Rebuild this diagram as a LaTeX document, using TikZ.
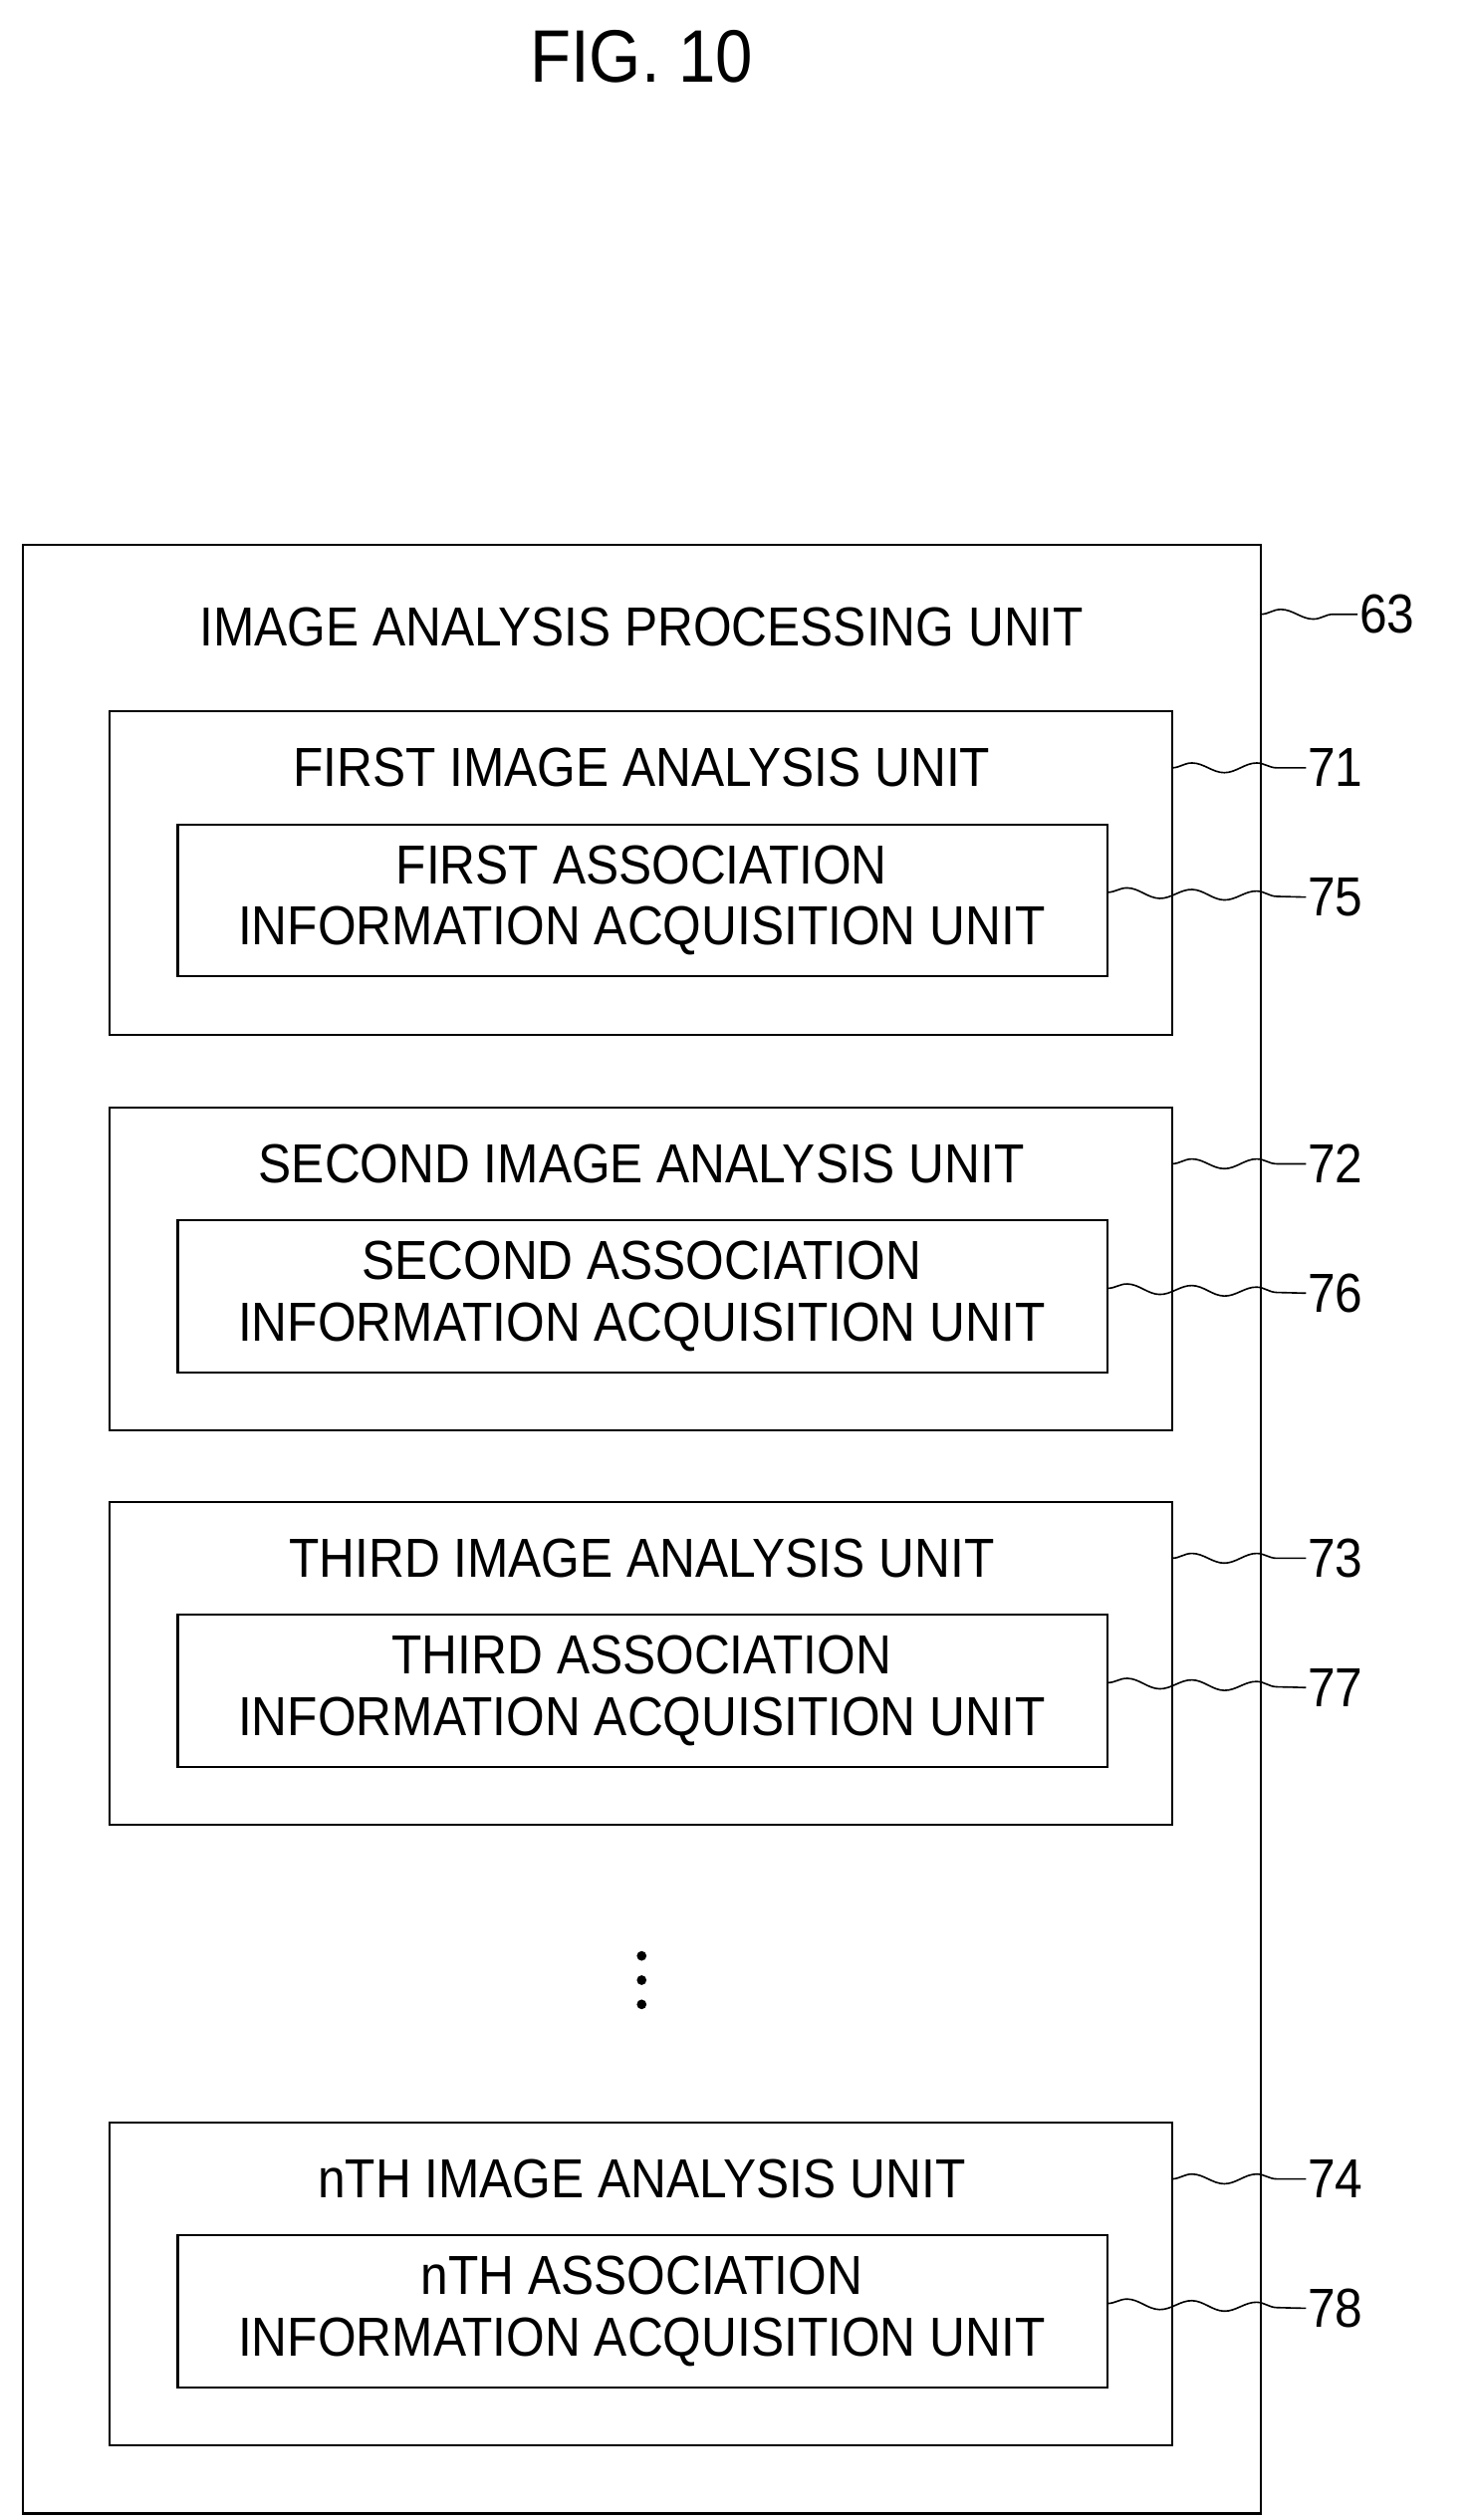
\documentclass[tikz,border=0pt]{standalone}
\usepackage{fontspec}
\setmainfont{Liberation Sans}[FakeStretch=0.9]
\usetikzlibrary{decorations.pathmorphing}
\begin{document}
\begin{tikzpicture}[x=1pt,y=-1pt,
  box/.style={draw,line width=1.3pt,inner sep=0},
  txt/.style={font=\fontsize{34}{38}\selectfont,align=center},
  lbl/.style={font=\fontsize{34}{38}\selectfont,anchor=west,inner sep=1pt},
  sq/.style={line width=1pt,decorate,decoration={snake,amplitude=3pt,segment length=40pt}}]
\useasboundingbox (0,0) rectangle (910,1559);
\node[font=\fontsize{46}{50}\selectfont] (fig) at (397,35) {FIG. 10};
\draw[box] (14,337) rectangle (780,1555);
\coordinate (o) at (780,380);
\node[txt] (t63) at (397,388) {IMAGE ANALYSIS PROCESSING UNIT};
\node[lbl] (l63) at (840,380) {63};
\draw[sq] (o) -- (l63.west);
\foreach \n/\y/\a/\b/\ttl/\inn in {1/440/71/75/FIRST IMAGE ANALYSIS UNIT/FIRST ASSOCIATION,
 2/685/72/76/SECOND IMAGE ANALYSIS UNIT/SECOND ASSOCIATION,
 3/929/73/77/THIRD IMAGE ANALYSIS UNIT/THIRD ASSOCIATION,
 4/1313/74/78/nTH IMAGE ANALYSIS UNIT/nTH ASSOCIATION}{
  \draw[box] (68,\y) rectangle (725,\y+200);
  \node[txt] (t\a) at (397,\y+35) {\ttl};
  \draw[box] (110,\y+70) rectangle (685,\y+164);
  \node[txt] (t\b) at (397,\y+117) {\inn\\INFORMATION ACQUISITION UNIT};
  \coordinate (r\a) at (725,\y+35);
  \node[lbl] (l\a) at (808,\y+35) {\a};
  \draw[sq] (r\a) -- (l\a.west);
  \coordinate (r\b) at (685,\y+112);
  \node[lbl] (l\b) at (808,\y+115) {\b};
  \draw[sq] (r\b) -- (l\b.west);
}
\foreach \yy in {1210,1225,1240}
  \fill (397,\yy) circle (3pt);
\end{tikzpicture}
\end{document}
